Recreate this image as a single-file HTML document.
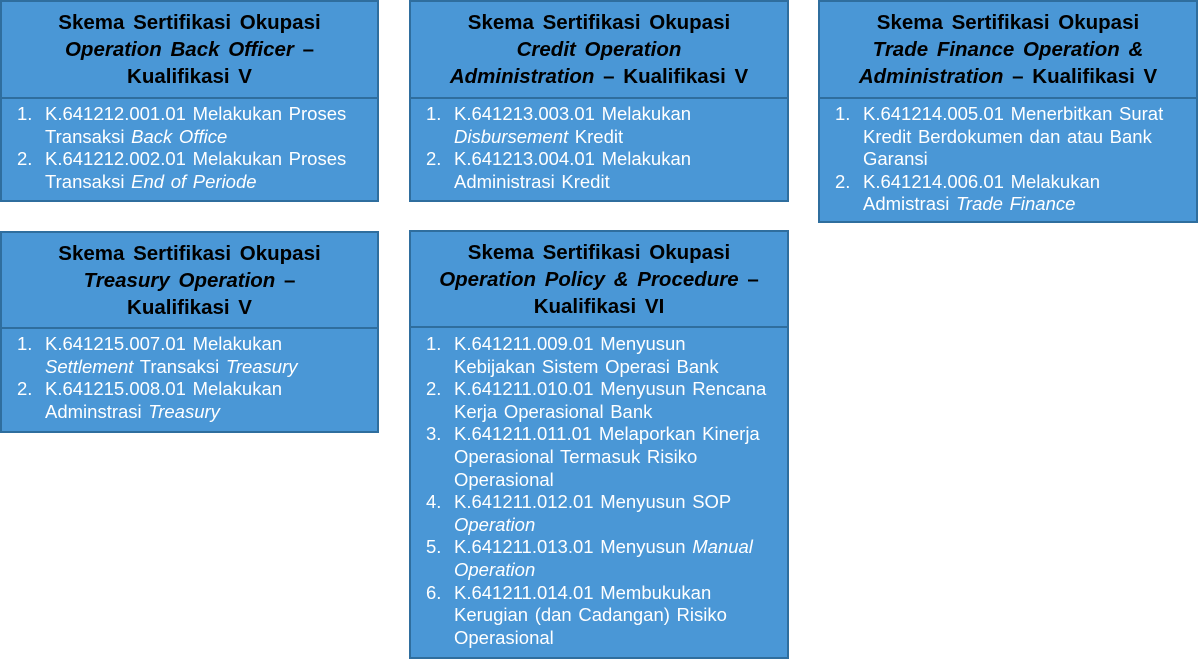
<!DOCTYPE html>
<html><head><meta charset="utf-8"><style>
body{margin:0;width:1198px;height:659px;background:#fff;position:relative;overflow:hidden;font-family:"Liberation Sans",Arial,sans-serif}
.b{position:absolute;background:#4a97d6;border:2px solid #2f6e9e;box-sizing:border-box}
.h{position:absolute;left:0;right:0;top:0;border-bottom:2px solid #2f6e9e;text-align:center;font-weight:bold;font-size:20.5px;word-spacing:3px;line-height:27px;color:#000;padding-top:7px;box-sizing:border-box;white-space:nowrap}
.bd{position:absolute;left:0;right:0;color:#fff;font-size:18.5px;word-spacing:1.5px;line-height:22.6px;white-space:nowrap}
.l{position:relative;padding-left:43px}
.n{position:absolute;left:15px}
i{font-style:italic}
</style></head><body>

<div class="b" style="left:0;top:0;width:379px;height:202px">
<div class="h" style="height:97px">Skema Sertifikasi Okupasi<br><i>Operation Back Officer</i> –<br>Kualifikasi V</div>
<div class="bd" style="top:101px">
<div class="l"><span class="n">1.</span>K.641212.001.01 Melakukan Proses</div>
<div class="l">Transaksi <i>Back Office</i></div>
<div class="l"><span class="n">2.</span>K.641212.002.01 Melakukan Proses</div>
<div class="l">Transaksi <i>End of Periode</i></div>
</div></div>

<div class="b" style="left:409px;top:0;width:380px;height:202px">
<div class="h" style="height:97px">Skema Sertifikasi Okupasi<br><i>Credit Operation</i><br><i>Administration</i> – Kualifikasi V</div>
<div class="bd" style="top:101px">
<div class="l"><span class="n">1.</span>K.641213.003.01 Melakukan</div>
<div class="l"><i>Disbursement</i> Kredit</div>
<div class="l"><span class="n">2.</span>K.641213.004.01 Melakukan</div>
<div class="l">Administrasi Kredit</div>
</div></div>

<div class="b" style="left:818px;top:0;width:380px;height:223px">
<div class="h" style="height:97px">Skema Sertifikasi Okupasi<br><i>Trade Finance Operation &amp;</i><br><i>Administration</i> – Kualifikasi V</div>
<div class="bd" style="top:101px">
<div class="l"><span class="n">1.</span>K.641214.005.01 Menerbitkan Surat</div>
<div class="l">Kredit Berdokumen dan atau Bank</div>
<div class="l">Garansi</div>
<div class="l"><span class="n">2.</span>K.641214.006.01 Melakukan</div>
<div class="l">Admistrasi <i>Trade Finance</i></div>
</div></div>

<div class="b" style="left:0;top:231px;width:379px;height:202px">
<div class="h" style="height:96px">Skema Sertifikasi Okupasi<br><i>Treasury Operation</i> –<br>Kualifikasi V</div>
<div class="bd" style="top:100px">
<div class="l"><span class="n">1.</span>K.641215.007.01 Melakukan</div>
<div class="l"><i>Settlement</i> Transaksi <i>Treasury</i></div>
<div class="l"><span class="n">2.</span>K.641215.008.01 Melakukan</div>
<div class="l">Adminstrasi <i>Treasury</i></div>
</div></div>

<div class="b" style="left:409px;top:230px;width:380px;height:429px">
<div class="h" style="height:96px">Skema Sertifikasi Okupasi<br><i>Operation Policy &amp; Procedure</i> –<br>Kualifikasi VI</div>
<div class="bd" style="top:101px">
<div class="l"><span class="n">1.</span>K.641211.009.01 Menyusun</div>
<div class="l">Kebijakan Sistem Operasi Bank</div>
<div class="l"><span class="n">2.</span>K.641211.010.01 Menyusun Rencana</div>
<div class="l">Kerja Operasional Bank</div>
<div class="l"><span class="n">3.</span>K.641211.011.01 Melaporkan Kinerja</div>
<div class="l">Operasional Termasuk Risiko</div>
<div class="l">Operasional</div>
<div class="l"><span class="n">4.</span>K.641211.012.01 Menyusun SOP</div>
<div class="l"><i>Operation</i></div>
<div class="l"><span class="n">5.</span>K.641211.013.01 Menyusun <i>Manual</i></div>
<div class="l"><i>Operation</i></div>
<div class="l"><span class="n">6.</span>K.641211.014.01 Membukukan</div>
<div class="l">Kerugian (dan Cadangan) Risiko</div>
<div class="l">Operasional</div>
</div></div>

</body></html>
